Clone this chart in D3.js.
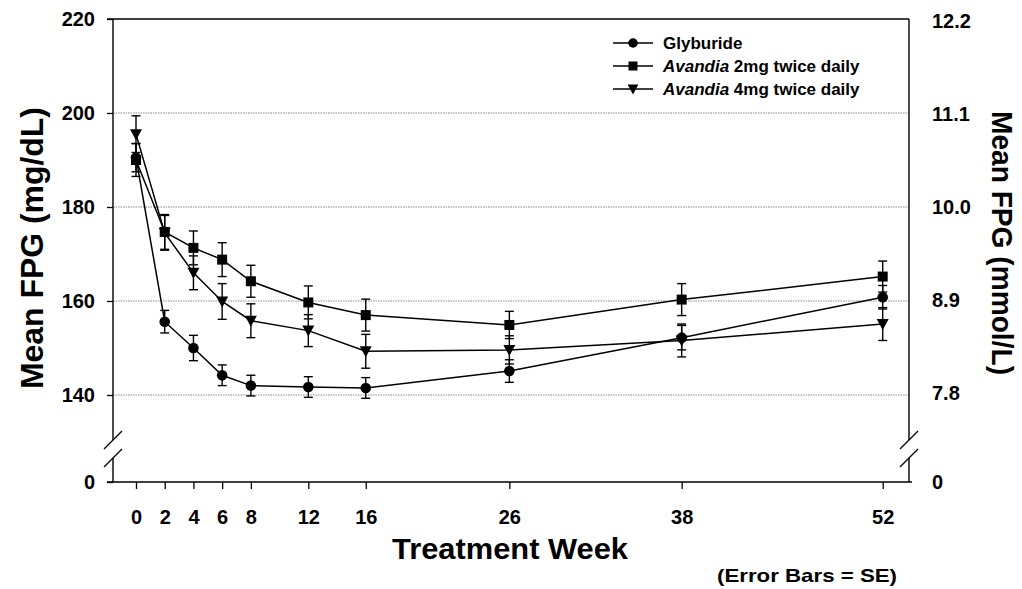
<!DOCTYPE html>
<html>
<head>
<meta charset="utf-8">
<script src="https://cdn.jsdelivr.net/npm/d3@7"></script>
<style>
  html, body { margin: 0; padding: 0; background: #fff; }
  svg { display: block; font-family: "Liberation Sans", Arial, Helvetica, sans-serif; }
</style>
</head>
<body>
<svg id="chart" width="1022" height="589"></svg>
<script>
// Mean fasting plasma glucose by treatment week (mg/dL), with standard errors
const weeks = [0, 2, 4, 6, 8, 12, 16, 26, 38, 52];

const glyburide   = [190.5, 155.6, 150.0, 144.2, 142.0, 141.7, 141.5, 145.1, 152.2, 160.8];
const glyburideSE = [3.0, 2.4, 2.7, 2.2, 2.2, 2.2, 2.2, 2.4, 2.6, 2.5];

const avandia2    = [190.0, 174.7, 171.3, 168.8, 164.2, 159.7, 157.0, 154.9, 160.3, 165.2];
const avandia2SE  = [3.5, 3.7, 3.6, 3.6, 3.4, 3.5, 3.4, 2.9, 3.4, 3.3];

const avandia4    = [195.5, 174.5, 166.0, 159.9, 155.8, 153.7, 149.3, 149.6, 151.6, 155.1];
const avandia4SE  = [3.9, 3.7, 3.6, 3.8, 3.6, 3.4, 3.6, 3.0, 3.5, 3.5];

const leftTicks  = [0, 140, 160, 180, 200, 220];
const gridValues = [140, 160, 180, 200];
const rightTicks = ["0", "7.8", "8.9", "10.0", "11.1", "12.2"];
const mgPerMmol = 18;

const seriesNames = ["Glyburide", "2mg twice daily", "4mg twice daily"];

const svg = d3.select("#chart");

// plot frame
const plotLeft = 113, plotRight = 909, plotTop = 19, plotBottom = 482;
const breakTop = 440, breakBottom = 458;

const x = d3.scaleLinear().domain([0, 52]).range([136, 882.7]);
// broken axis: 0 sits at the bottom, the readable range starts above the break
const y = d3.scaleLinear().domain([0, 130, 220]).range([plotBottom, 442, plotTop]);
const yR = d3.scaleLinear()
  .domain([0, 130 / mgPerMmol, 220 / mgPerMmol])
  .range([plotBottom, 442, plotTop]);

// gridlines
svg.append("g").selectAll("line").data(gridValues).join("line")
  .attr("x1", plotLeft).attr("x2", plotRight)
  .attr("y1", d => y(d)).attr("y2", d => y(d))
  .attr("stroke", "#8a8a8a").attr("stroke-width", 1.1)
  .attr("stroke-dasharray", "1.5,1");

// frame lines
const frame = svg.append("g").attr("stroke", "#000").attr("stroke-width", 1.4).attr("fill", "none");
frame.append("line").attr("x1", plotLeft - 6).attr("x2", plotRight).attr("y1", plotTop).attr("y2", plotTop);
frame.append("line").attr("x1", plotLeft - 6).attr("x2", plotRight + 3).attr("y1", plotBottom).attr("y2", plotBottom);
[plotLeft, plotRight].forEach(xx => {
  frame.append("line").attr("x1", xx).attr("x2", xx).attr("y1", plotTop).attr("y2", breakTop);
  frame.append("line").attr("x1", xx).attr("x2", xx).attr("y1", breakBottom).attr("y2", plotBottom);
  // break marks
  [breakTop, breakBottom].forEach(by => {
    frame.append("line")
      .attr("x1", xx - 9).attr("y1", by + 9)
      .attr("x2", xx + 9).attr("y2", by - 9)
      .attr("stroke-width", 1.3);
  });
});

const tickFont = sel => sel
  .attr("font-size", 20).attr("font-weight", "bold").attr("fill", "#000")
  .attr("font-family", "Liberation Sans, Arial, sans-serif");

// left axis
const yAxis = d3.axisLeft(y).tickValues(leftTicks).tickSize(6).tickPadding(12)
  .tickFormat(d3.format("d"));
const gy = svg.append("g").attr("transform", `translate(${plotLeft},0)`).call(yAxis);
gy.select(".domain").remove();
gy.selectAll(".tick line").attr("stroke-width", 1.3);
gy.selectAll(".tick text").call(tickFont);

// right axis (mmol/L)
const yAxisR = d3.axisRight(yR).tickValues(rightTicks.map(Number)).tickSize(0).tickPadding(23)
  .tickFormat((d, i) => rightTicks[i]);
const gyr = svg.append("g").attr("transform", `translate(${plotRight},0)`).call(yAxisR);
gyr.select(".domain").remove();
gyr.selectAll(".tick text").call(tickFont);

// bottom axis
const xAxis = d3.axisBottom(x).tickValues(weeks).tickSize(7).tickPadding(21)
  .tickFormat(d3.format("d"));
const gx = svg.append("g").attr("transform", `translate(0,${plotBottom})`).call(xAxis);
gx.select(".domain").remove();
gx.selectAll(".tick line").attr("stroke-width", 1.3);
gx.selectAll(".tick text").call(tickFont);

// axis titles
svg.append("text")
  .attr("transform", "translate(32,248) rotate(-90)")
  .attr("text-anchor", "middle").attr("dominant-baseline", "central")
  .attr("font-size", 32).attr("font-weight", "bold")
  .attr("textLength", 282).attr("lengthAdjust", "spacingAndGlyphs")
  .text("Mean FPG (mg/dL)");

svg.append("text")
  .attr("transform", "translate(1002,243) rotate(90)")
  .attr("text-anchor", "middle").attr("dominant-baseline", "central")
  .attr("font-size", 30).attr("font-weight", "bold")
  .attr("textLength", 264).attr("lengthAdjust", "spacingAndGlyphs")
  .text("Mean FPG (mmol/L)");

svg.append("text")
  .attr("x", 510).attr("y", 559)
  .attr("text-anchor", "middle")
  .attr("font-size", 29).attr("font-weight", "bold")
  .attr("textLength", 236).attr("lengthAdjust", "spacingAndGlyphs")
  .text("Treatment Week");

svg.append("text")
  .attr("x", 807).attr("y", 582)
  .attr("text-anchor", "middle")
  .attr("font-size", 19).attr("font-weight", "bold")
  .attr("textLength", 180).attr("lengthAdjust", "spacingAndGlyphs")
  .text("(Error Bars = SE)");

// series
const series = [
  { name: seriesNames[0], values: glyburide, se: glyburideSE, shape: "circle" },
  { name: seriesNames[1], values: avandia2, se: avandia2SE, shape: "square" },
  { name: seriesNames[2], values: avandia4, se: avandia4SE, shape: "triangle" }
];

function drawMarker(g, shape, cx, cy, s) {
  if (shape === "circle") {
    g.append("circle").attr("cx", cx).attr("cy", cy).attr("r", 5.3 * s).attr("fill", "#000");
  } else if (shape === "square") {
    const h = 5 * s;
    g.append("rect").attr("x", cx - h).attr("y", cy - h)
      .attr("width", 2 * h).attr("height", 2 * h).attr("fill", "#000");
  } else {
    const w = 6 * s, h1 = 5 * s, h2 = 6 * s;
    g.append("path")
      .attr("d", `M${cx - w},${cy - h1}L${cx + w},${cy - h1}L${cx},${cy + h2}Z`)
      .attr("fill", "#000");
  }
}

const line = d3.line().x(d => x(d[0])).y(d => y(d[1]));
const plot = svg.append("g");

series.forEach(s => {
  const pts = weeks.map((w, i) => [w, s.values[i], s.se[i]]);
  plot.append("path").datum(pts).attr("d", line)
    .attr("fill", "none").attr("stroke", "#000").attr("stroke-width", 1.5);
});

series.forEach(s => {
  const pts = weeks.map((w, i) => [w, s.values[i], s.se[i]]);
  const eb = plot.append("g").attr("stroke", "#000").attr("stroke-width", 1.4);
  pts.forEach(p => {
    const cx = x(p[0]), y1 = y(p[1] + p[2]), y2 = y(p[1] - p[2]);
    eb.append("line").attr("x1", cx).attr("x2", cx).attr("y1", y1).attr("y2", y2);
    eb.append("line").attr("x1", cx - 4.5).attr("x2", cx + 4.5).attr("y1", y1).attr("y2", y1);
    eb.append("line").attr("x1", cx - 4.5).attr("x2", cx + 4.5).attr("y1", y2).attr("y2", y2);
  });
});

series.forEach(s => {
  const g = plot.append("g");
  weeks.forEach((w, i) => drawMarker(g, s.shape, x(w), y(s.values[i]), 1));
});

// legend
const legend = svg.append("g");
const legendRows = [43, 66, 89];
series.forEach((s, i) => {
  const ly = legendRows[i];
  legend.append("line").attr("x1", 613).attr("x2", 653).attr("y1", ly).attr("y2", ly)
    .attr("stroke", "#000").attr("stroke-width", 1.4);
  drawMarker(legend, s.shape, 633, ly, 0.9);
  const t = legend.append("text").attr("x", 663).attr("y", ly)
    .attr("dominant-baseline", "central")
    .attr("font-size", 17).attr("font-weight", "bold");
  if (i === 0) {
    t.text(s.name);
  } else {
    t.append("tspan").attr("font-style", "italic").text("Avandia");
    t.append("tspan").text(" " + s.name);
  }
});
</script>
</body>
</html>
